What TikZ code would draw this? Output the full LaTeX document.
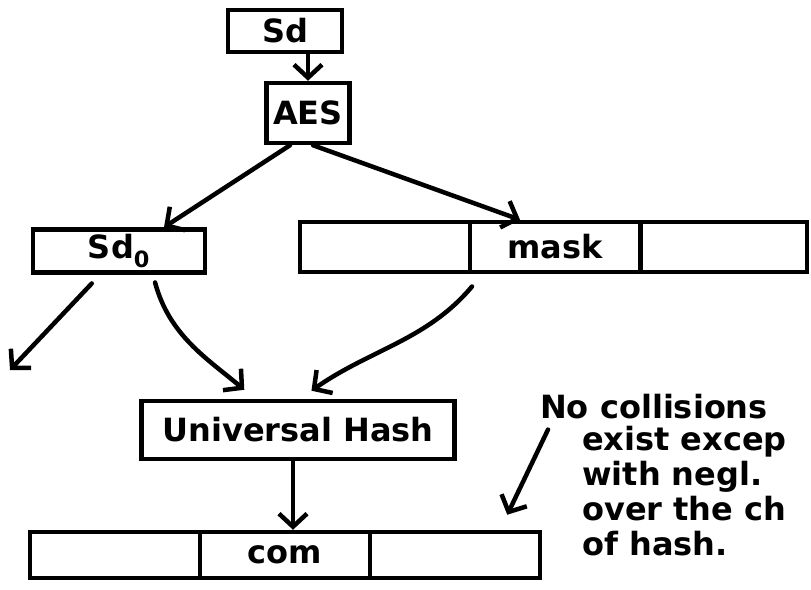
\documentclass[tikz,border=0pt]{standalone}
\usepackage{fontspec}
\setmainfont{DejaVu Sans}
\usetikzlibrary{arrows.meta}

\tikzset{
  box/.style={draw, line width=4.5pt, inner sep=0pt, font=\fontsize{32}{36}\bfseries},
  cell/.style={box, minimum width=170pt, minimum height=50pt},
  flow/.style={line width=4.5pt, line cap=round, -{Straight Barb[length=13pt, width=28pt]}},
  note/.style={font=\fontsize{32}{35}\bfseries, inner sep=0pt}
}

\begin{document}
\begin{tikzpicture}[x=1pt, y=-1pt]
            \useasboundingbox (0,0) rectangle (811,589);

            % Draw the key and the cipher
            \node[box, minimum width=114pt, minimum height=42pt] (sd) at (285,31) {Sd};
            \node[box, minimum width=83pt, minimum height=60pt] (aes) at (308,113) {AES};

            \node[box, minimum width=172pt, minimum height=43pt] (sdzero) at (119,251) {Sd\textsubscript{0}};

            % Draw the mask bar
            \node[cell] (mask1) at (385,247) {};
            \node[cell] (mask2) at (555,247) {mask};
            \node[cell, minimum width=166pt] (mask3) at (724,247) {};

            \node[box, minimum width=313pt, minimum height=58pt] (hash) at (298,430) {Universal Hash};

            % Draw the com bar
            \node[cell, minimum height=46pt] (com1) at (115,555) {};
            \node[cell, minimum height=46pt] (com2) at (285,555) {com};
            \node[cell, minimum height=46pt] (com3) at (455,555) {};

            \coordinate (exit) at (10,370);

            % Draw the note
            \node[note, anchor=west] (noteA) at (540,407) {No collisions};
            \node[note, anchor=north west, align=left] (noteB) at (582,426) {exist excep\\with negl.\\over the ch\\of hash.};

            % Draw the arrows
            \draw[flow] (sd.south -| aes.north) -- (aes.north);
            \draw[flow] ([xshift=-18pt]aes.south) -- ([xshift=45pt]sdzero.north);
            \draw[flow] ([xshift=5pt]aes.south) -- ([xshift=-35pt]mask2.north);

            \draw[flow, shorten <=12pt] ([xshift=-19pt]sdzero.south) -- (exit);
            \draw[flow, shorten <=8pt, shorten >=14pt] ([xshift=34pt]sdzero.south) to[out=-75, in=140] ([xshift=-43pt]hash.north);
            \draw[flow, shorten <=16pt, shorten >=14pt] ([xshift=10pt]mask1.south east) to[out=-130, in=35] ([xshift=2pt]hash.north);

            \draw[flow] ([xshift=-5pt]hash.south) -- ([xshift=-5pt]hash.south |- com2.north);
            \draw[flow] ([xshift=8pt, yshift=-10pt]noteA.south west) -- ([xshift=-35pt, yshift=15pt]com3.north east);

\end{tikzpicture}
\end{document}
